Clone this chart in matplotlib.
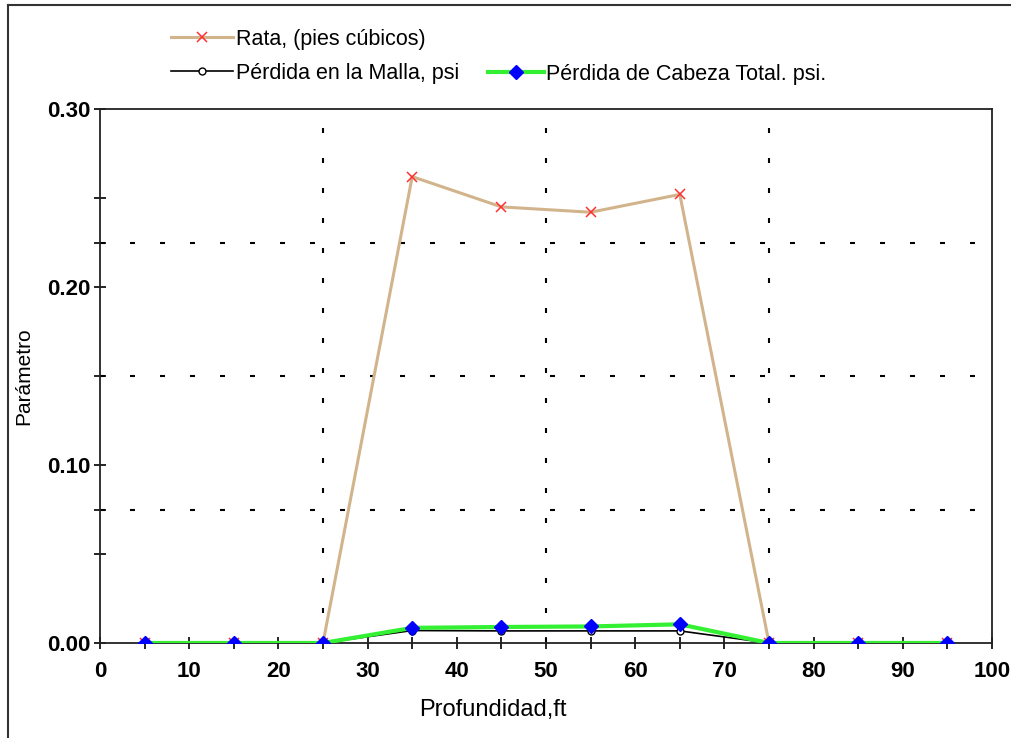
import matplotlib
matplotlib.use("Agg")
import matplotlib.pyplot as plt
from matplotlib.lines import Line2D

# data
depth = [5, 15, 25, 35, 45, 55, 65, 75, 85, 95]
rata = [0, 0, 0, 0.262, 0.245, 0.242, 0.252, 0, 0, 0]
malla = [0, 0, 0, 0.0070, 0.0068, 0.0068, 0.0068, 0, 0, 0]
cabeza = [0, 0, 0, 0.0085, 0.0090, 0.0093, 0.0105, 0, 0, 0]

labels = ["Rata, (pies cúbicos)", "Pérdida en la Malla, psi", "Pérdida de Cabeza Total. psi."]
xgrid = [25, 50, 75]
ygrid = [0.075, 0.15, 0.225]

plt.rcParams['font.family'] = ['Liberation Sans', 'DejaVu Sans']

fig = plt.figure(figsize=(10.11, 7.38), dpi=100)
ax = fig.add_axes([100/1011, 1 - 643/738, (992-100)/1011, (643-109)/738])

l1, = ax.plot(depth, rata, color='#D2B48C', lw=2.2, marker='x', ms=7, mec='#FF3030', mew=1.1, zorder=3)
l2, = ax.plot(depth, malla, color='black', lw=1.2, marker='o', ms=5, mfc='white', mec='black', mew=1, zorder=4)
l3, = ax.plot(depth, cabeza, color='#33F033', lw=3, marker='D', ms=7, mfc='#0000FF', mec='#0000FF', zorder=5)

for g in xgrid:
    ax.axvline(g, color='black', lw=1.5, dashes=(2.4, 12.0), zorder=1)
for g in ygrid:
    ax.axhline(g, color='black', lw=1.5, dashes=(2.4, 12.0), zorder=1)

ax.set_xlim(0, 100)
ax.set_ylim(0, 0.30)
ax.set_xticks(range(0, 101, 10))
ax.set_xticks(range(5, 100, 10), minor=True)
ax.set_yticks([0, 0.1, 0.2, 0.3])
ax.set_yticks([0.05, 0.075, 0.15, 0.225, 0.25], minor=True)
ax.set_yticklabels(["0.00", "0.10", "0.20", "0.30"])
ax.tick_params(which='both', direction='inout', length=8, width=1.2, color='black')
ax.tick_params(axis='y', which='both', pad=3)
ax.tick_params(axis='x', which='both', pad=9)
for t in ax.get_xticklabels() + ax.get_yticklabels():
    t.set_fontsize(16)
    t.set_fontweight('bold')
for s in ax.spines.values():
    s.set_color('#222222')
    s.set_linewidth(1.3)

ax.set_xlabel("Profundidad,ft", fontsize=17, labelpad=11)
ax.xaxis.set_label_coords((493 - 100) / 892, -0.105)
ax.set_ylabel("Parámetro", fontsize=15, labelpad=2)
ax.yaxis.set_label_coords(-(100 - 33) / 892, 0.5)

leg1 = fig.legend([l1, l2], labels[:2], loc='upper left', bbox_to_anchor=(160/1011, 1 - 18/738),
                  frameon=False, fontsize=15.5, handlelength=2.9, handletextpad=0.15,
                  labelspacing=0.6, borderpad=0)
leg2 = fig.legend([l3], labels[2:], loc='upper left', bbox_to_anchor=(477/1011, 1 - 53/738),
                  frameon=False, fontsize=15.5, handlelength=2.6, handletextpad=0.1, borderpad=0)

# outer frame (left and top edges of the screenshot)
fig.add_artist(Line2D([8/1011, 8/1011], [0, 1 - 5/738], color='#333333', lw=1.5))
fig.add_artist(Line2D([8/1011, 1], [1 - 5/738, 1 - 5/738], color='#333333', lw=1.5))

fig.savefig("out.png", dpi=100)
